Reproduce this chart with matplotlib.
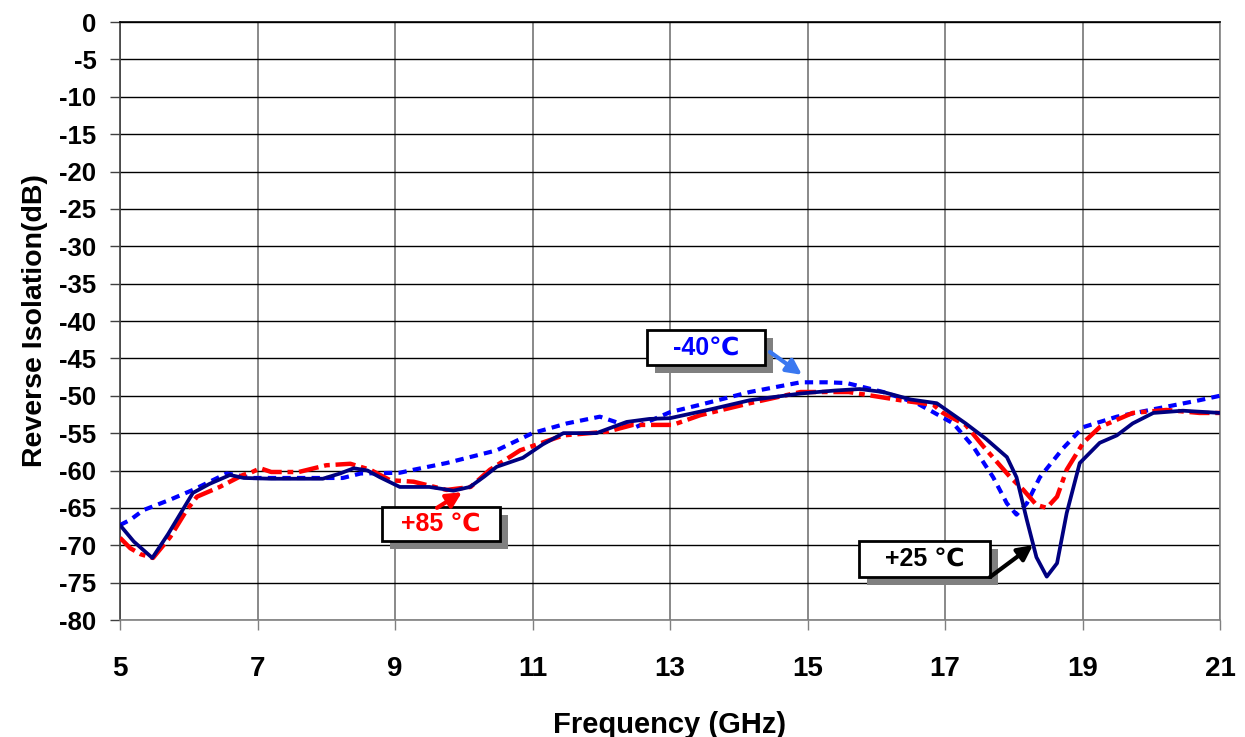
import matplotlib
matplotlib.use("Agg")
import matplotlib.pyplot as plt
from matplotlib.patches import Rectangle

# ---------------- data ----------------
freq_25 = [5.0, 5.2, 5.47, 5.7, 6.06, 6.3, 6.6, 6.8, 7.2, 7.95, 8.2, 8.4, 8.6, 8.78, 9.07,
           9.5, 9.85, 10.09, 10.3, 10.48, 10.86, 11.15, 11.45, 11.93, 12.37, 12.7, 13.0, 13.6,
           14.16, 14.9, 15.4, 15.76, 16.1, 16.5, 16.88, 17.3, 17.6, 17.9, 18.04, 18.19,
           18.33, 18.48, 18.63, 18.77, 18.96, 19.25, 19.5, 19.73, 20.03, 20.46, 21.0]
iso_25 = [-67.3, -69.5, -71.7, -68.5, -63.0, -61.8, -60.6, -61.0, -61.1, -61.1, -60.4,
          -59.7, -60.0, -60.9, -62.2, -62.2, -62.7, -62.2, -60.8, -59.5, -58.3, -56.5, -55.0,
          -55.0, -53.5, -53.1, -53.0, -51.8, -50.6, -49.7, -49.3, -49.1, -49.5, -50.5,
          -51.0, -53.7, -55.8, -58.2, -60.9, -66.6, -71.6, -74.2, -72.4, -65.7, -59.0,
          -56.3, -55.3, -53.7, -52.3, -52.0, -52.3]

freq_85 = [5.0, 5.15, 5.3, 5.48, 5.73, 5.97, 6.12, 6.45, 6.79, 6.9, 7.04, 7.2, 7.6, 8.0,
           8.35, 8.64, 8.93, 9.27, 9.75, 10.1, 10.38, 10.82, 11.45, 12.09, 12.46, 13.04,
           13.44, 14.16, 14.9, 15.6, 16.35, 16.83, 16.97, 17.3, 17.56, 17.95, 18.14,
           18.33, 18.48, 18.63, 18.77, 19.01, 19.25, 19.73, 20.22, 20.7, 21.0]
iso_85 = [-69.0, -70.4, -71.2, -71.7, -68.9, -65.3, -63.5, -62.2, -60.6, -60.3, -59.7,
          -60.2, -60.2, -59.3, -59.1, -59.9, -61.3, -61.5, -62.6, -62.2, -59.9, -57.3,
          -55.3, -54.8, -53.9, -53.9, -52.6, -51.0, -49.5, -49.5, -50.6, -51.2, -52.3,
          -53.9, -56.8, -60.9, -62.6, -64.6, -65.0, -63.5, -59.9, -56.3, -54.2, -52.3,
          -51.9, -52.3, -52.3]

freq_m40 = [5.0, 5.15, 5.34, 5.73, 6.06, 6.55, 6.94, 7.76, 8.24, 8.5, 9.07, 9.27, 9.75,
            10.48, 11.0, 11.5, 11.98, 12.27, 12.5, 13.0, 13.44, 14.16, 14.9, 15.28, 15.57,
            16.1, 16.59, 16.83, 17.12, 17.41, 17.7, 17.9, 18.04, 18.19, 18.38, 18.72,
            19.01, 19.5, 19.98, 20.7, 21.0]
iso_m40 = [-67.3, -66.6, -65.3, -63.9, -62.6, -60.4, -61.0, -61.0, -61.0, -60.4, -60.3,
           -59.9, -59.0, -57.3, -55.0, -53.7, -52.8, -53.7, -54.2, -52.2, -51.2, -49.5,
           -48.2, -48.2, -48.3, -49.5, -51.0, -52.2, -53.7, -56.8, -60.9, -64.4, -65.9,
           -64.4, -60.9, -57.0, -54.2, -52.8, -51.9, -50.6, -50.0]

x_ticks = [5, 7, 9, 11, 13, 15, 17, 19, 21]
y_ticks = list(range(-80, 1, 5))

labels = ["-40\u2103", "+85 \u2103", "+25 \u2103"]

FONT = ["Liberation Sans", "DejaVu Sans", "Noto Sans CJK SC"]
plt.rcParams["font.family"] = FONT

# ---------------- figure ----------------
fig = plt.figure(figsize=(12.45, 7.37), dpi=100)
ax = fig.add_axes([120 / 1245, 117 / 737, 1100 / 1245, 598 / 737])

ax.set_xlim(5, 21)
ax.set_ylim(-80, 0)
ax.set_xticks(x_ticks)
ax.set_yticks(y_ticks)
ax.set_xticklabels([str(t) for t in x_ticks], fontsize=20, fontweight="bold")
ax.set_yticklabels([str(t) for t in y_ticks], fontsize=18.5, fontweight="bold")
ax.tick_params(axis="x", direction="out", length=7, width=1, color="#808080", pad=19)
ax.tick_params(axis="y", direction="out", length=7, width=1, color="#404040", pad=10)

ax.grid(axis="y", color="black", linewidth=1.0, zorder=0)
ax.grid(axis="x", color="#808080", linewidth=1.3, zorder=0)
ax.set_axisbelow(True)

for side, col in [("left", "#404040"), ("bottom", "#808080"), ("top", "black"), ("right", "#808080")]:
    ax.spines[side].set_color(col)
    ax.spines[side].set_linewidth(1.2)

ax.set_xlabel("Frequency (GHz)", fontsize=21, fontweight="bold", labelpad=21)
ax.set_ylabel("Reverse Isolation(dB)", fontsize=20.5, fontweight="bold", labelpad=8)

# ---------------- curves ----------------
ax.plot(freq_m40, iso_m40, color="#0000ff", linewidth=3.0, dashes=(2.0, 1.5), zorder=3)
ax.plot(freq_85, iso_85, color="#ff0000", linewidth=3.2, dashes=(4.5, 1.3, 1.3, 1.3), zorder=4)
ax.plot(freq_25, iso_25, color="#000080", linewidth=2.7, zorder=5,
        solid_joinstyle="round", solid_capstyle="round")

# ---------------- callouts ----------------
def callout(text, x0, x1, y0, y1, tcolor, acolor, a_from, a_to):
    dx, dy = 0.116, 1.07
    ax.add_patch(Rectangle((x0 + dx, y1 - dy), x1 - x0, y0 - y1, facecolor="#808080",
                           edgecolor="none", zorder=6, clip_on=False))
    ax.add_patch(Rectangle((x0, y1), x1 - x0, y0 - y1, facecolor="white",
                           edgecolor="black", linewidth=2, zorder=7, clip_on=False))
    ax.text((x0 + x1) / 2, (y0 + y1) / 2, text, color=tcolor, fontsize=18,
            fontweight="bold", ha="center", va="center", zorder=8)
    ax.annotate("", xy=a_to, xytext=a_from, zorder=8,
                arrowprops=dict(arrowstyle="-|>,head_length=0.9,head_width=0.45",
                                color=acolor, lw=3, shrinkA=0, shrinkB=0))

callout(labels[0], 12.665, 14.382, -41.2, -45.9, "#0000ff", "#3a78f0",
        (14.455, -44.15), (14.92, -47.2))
callout(labels[1], 8.811, 10.527, -64.88, -69.43, "#ff0000", "#ff0000",
        (9.611, -65.0), (9.975, -62.9))
callout(labels[2], 15.749, 17.655, -69.43, -74.25, "black", "black",
        (17.655, -74.25), (18.28, -69.97))

fig.savefig("out.png", dpi=100)
